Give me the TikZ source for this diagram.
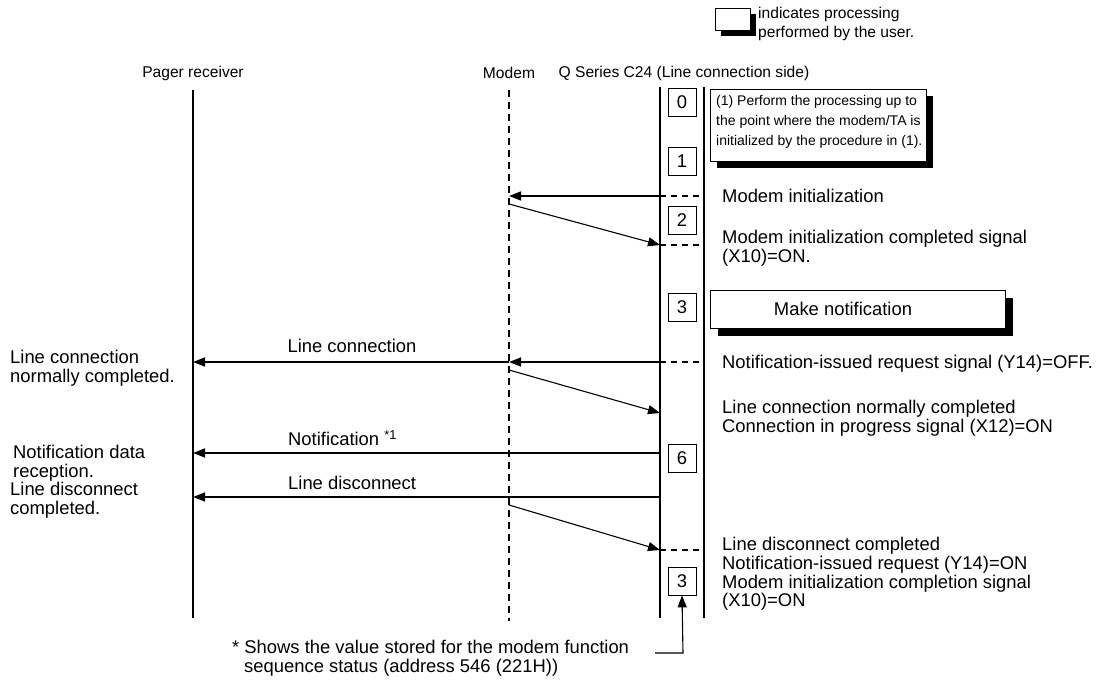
\documentclass[tikz,border=0pt]{standalone}
\usepackage{fontspec}
\setmainfont{Liberation Sans}
\usetikzlibrary{arrows.meta}
\begin{document}
\begin{tikzpicture}[x=1pt,y=-1pt,
  font=\fontsize{18.4}{18.8}\selectfont,
  life/.style={line width=1.8pt},
  modemlife/.style={line width=1.8pt,dash pattern=on 7pt off 5pt},
  msg/.style={line width=1.6pt,-{Triangle[length=12pt,width=9pt]}},
  slant/.style={line width=1.1pt,-{Triangle[length=12pt,width=9pt]}},
  dsh/.style={line width=1.4pt,dash pattern=on 6pt off 5pt},
  numbox/.style={draw,line width=0.8pt,minimum width=28pt,minimum height=28pt,inner sep=0pt},
  txt/.style={anchor=west,inner sep=0pt,align=left},
  hdr/.style={inner sep=0pt,font=\fontsize{15.6}{18.5}\selectfont},
  ubox/.style={draw,fill=white,line width=0.8pt},
  ushadow/.style={fill=black}
]
\useasboundingbox (0,0) rectangle (1101,684);

% legend
\fill[ushadow] (721,14) rectangle (756,36);
\draw[ubox] (715,8) rectangle (750,30);
\node[hdr,anchor=west,align=left] (leg) at (758,24) {indicates processing\\performed by the user.};

% headers
\node[hdr,anchor=center] (hpager) at (193,73) {Pager receiver};
\node[hdr,anchor=center] (hmodem) at (509,73) {Modem};
\node[hdr,anchor=center] (hc24) at (684,73) {Q Series C24 (Line connection side)};

% lifelines
\coordinate (pT) at (193,90);  \coordinate (pB) at (193,618);
\coordinate (mT) at (509,90);  \coordinate (mB) at (509,621);
\coordinate (cLT) at (660,87); \coordinate (cLB) at (660,618);
\coordinate (cRT) at (704,87); \coordinate (cRB) at (704,618);
\draw[life] (pT) -- (pB);
\draw[modemlife] (mT) -- (mB);
\draw[life] (cLT) -- (cLB);
\draw[life] (cRT) -- (cRB);

% number boxes
\node[numbox] (n0) at (682,102) {0};
\node[numbox] (n1) at (682,161) {1};
\node[numbox] (n2) at (682,220) {2};
\node[numbox] (n3) at (682,307) {3};
\node[numbox] (n6) at (682,458) {6};
\node[numbox] (n3b) at (682,581) {3};

% user box 1
\fill[ushadow] (717,96) rectangle (933,168);
\draw[ubox] (710,89) rectangle (926,161);
\node[txt,font=\fontsize{14}{20}\selectfont] (u1) at (716,122) {(1) Perform the processing up to\\the point where the modem/TA is\\initialized by the procedure in (1).};

% user box make notification
\fill[ushadow] (718,298) rectangle (1013,336);
\draw[ubox] (710,290) rectangle (1005,328);
\node[anchor=center,inner sep=0pt] (mk) at (843,309) {Make notification};

% step 1: modem initialization
\coordinate (c1) at (660,196); \coordinate (c1r) at (704,196); \coordinate (m1) at (509,196);
\draw[dsh] (c1) -- (c1r);
\draw[msg] (c1) -- (m1);
\node[txt] (t1) at (722,196) {Modem initialization};

\coordinate (m2) at (509,204); \coordinate (c2) at (660,245); \coordinate (c2r) at (704,245);
\draw[slant] (m2) -- (c2);
\draw[dsh] (c2) -- (c2r);
\node[txt] (t2) at (722,248) {Modem initialization completed signal\\(X10)=ON.};

% line connection
\coordinate (c3) at (660,362); \coordinate (c3r) at (704,362);
\coordinate (m3) at (509,362); \coordinate (p3) at (193,362);
\draw[dsh] (c3) -- (c3r);
\draw[msg] (c3) -- (m3);
\draw[msg] (m3) -- (p3);
\node[anchor=center,inner sep=0pt] (l3) at (352,346) {Line connection};
\node[txt] (t3) at (722,364) {Notification-issued request signal (Y14)=OFF.};
\node[txt] (lp3) at (10,368) {Line connection\\normally completed.};

\coordinate (m4) at (509,370); \coordinate (c4) at (660,413);
\draw[slant] (m4) -- (c4);
\node[txt] (t4) at (722,418) {Line connection normally completed\\Connection in progress signal (X12)=ON};

% notification
\coordinate (c5) at (660,453); \coordinate (p5) at (193,453);
\draw[msg] (c5) -- (p5);
\node[txt] (l5) at (288,438) {Notification \textsuperscript{*1}};
\node[txt] (lp5) at (13,463) {Notification data\\reception.};

% line disconnect
\coordinate (c6) at (660,497); \coordinate (p6) at (193,497);
\draw[msg] (c6) -- (p6);
\node[txt] (l6) at (288,483) {Line disconnect};
\node[txt] (lp6) at (10,500) {Line disconnect\\completed.};

\coordinate (m7) at (509,505); \coordinate (c7) at (660,550); \coordinate (c7r) at (704,550);
\draw[slant] (m7) -- (c7);
\draw[dsh] (c7) -- (c7r);
\node[txt] (t7) at (722,574) {Line disconnect completed\\Notification-issued request (Y14)=ON\\Modem initialization completion signal\\(X10)=ON};

% footnote
\node[txt] (fn) at (232,658) {* Shows the value stored for the modem function\\\hspace*{12pt}sequence status (address 546 (221H))};
\coordinate (fl) at (655,653); \coordinate (fc) at (683,653);
\draw[line width=1.1pt,-{Triangle[length=12pt,width=9pt]}] (fl) -- (fc) -- (n3b.south);
\end{tikzpicture}
\end{document}
